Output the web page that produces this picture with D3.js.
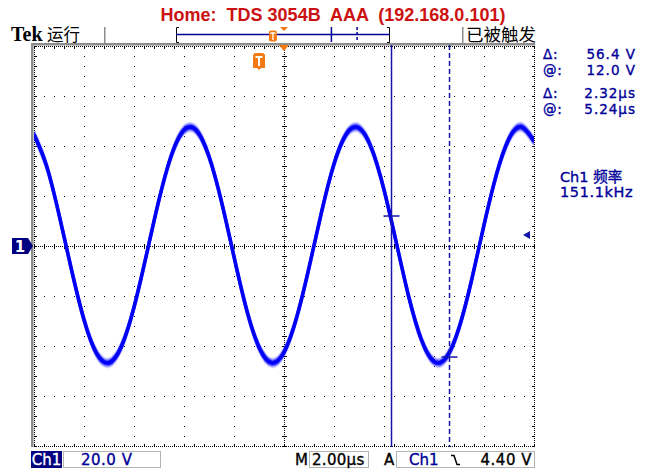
<!DOCTYPE html>
<html><head><meta charset="utf-8">
<script src="https://cdn.jsdelivr.net/npm/d3@7"></script>
<style>html,body{margin:0;padding:0;background:#fff;} svg{display:block}</style>
</head><body>
<svg id="c" width="672" height="475"></svg>
<script>
// ---------- data ----------
const title = "Home:  TDS 3054B  AAA  (192.168.0.101)";
const timeSamples = [-10,-9.5,-9,-8.5,-8,-7.5,-7,-6.5,-6,-5.5,-5,-4.5,-4,-3.5,-3,-2.5,-2,-1.5,-1,-0.5,0,
  0.5,1,1.5,2,2.5,3,3.5,4,4.5,5,5.5,6,6.5,7,7.5,8,8.5,9,9.5,10]; // µs
const ch1Volts = [44.6,32.1,12.6,-9.5,-29.5,-42.9,-46.7,-40.1,-24.5,-3.4,18.5,36.4,46.4,46.2,35.8,17.7,-4.3,-25.3,-40.5,-46.7,-42.5,
  -28.8,-8.7,13.5,32.8,44.9,47.2,39.1,22.5,1.0,-20.7,-37.6,-46.2,-44.5,-32.8,-13.8,8.4,28.7,42.9,47.6,41.9]; // V
const timeDivs = [-10,-8,-6,-4,-2,0,2,4,6,8,10];          // 2.00 µs/div
const voltDivs = [-80,-60,-40,-20,0,20,40,60,80];          // 20.0 V/div
const cursorTimes = [4.28, 6.60];
const cursorVolts = [12.0, -44.4];
const cursorDash = [false, true];
const triggerLevel = 4.40;
const triggerTime = -1.0;
const readoutLabels = ["Δ:", "@:", "Δ:", "@:"];
const readoutValues = ["56.4 V", "12.0 V", "2.32µs", "5.24µs"];
const freqLabel = "Ch1 频率";
const freqValue = "151.1kHz";
const statusLeft = "运行";
const statusRight = "已被触发";
const chScale = "20.0 V";
const timeScale = "2.00µs";
const trigSource = "Ch1";
const trigLevelText = "4.40 V";

// ---------- setup ----------
const svg = d3.select("#c");
const x = d3.scaleLinear().domain([timeDivs[0], timeDivs[timeDivs.length-1]]).range([34, 534]);
const y = d3.scaleLinear().domain([voltDivs[0], voltDivs[voltDivs.length-1]]).range([446, 46]);
const barScale = d3.scaleLinear().domain([-9.75, 9.57]).range([176, 390]);
const X0 = 34, X1 = 534, Y0 = 46, Y1 = 446;
const NAVY = "#000099";

svg.append("defs").append("clipPath").attr("id","clip")
  .append("rect").attr("x",X0).attr("y",Y0).attr("width",X1-X0).attr("height",Y1-Y0);

// title
svg.append("text").attr("x",333).attr("y",21).attr("text-anchor","middle")
  .attr("font-family","Liberation Sans, Arial, sans-serif").attr("font-weight","bold")
  .attr("font-size",18).attr("fill","#cc1111").style("white-space","pre").text(title);

// status bar
svg.append("text").attr("x",11).attr("y",41).attr("font-family","Liberation Serif, serif")
  .attr("font-weight","bold").attr("font-size",20).attr("fill","#000").text("Tek");
svg.append("text").attr("x",47).attr("y",41).attr("font-family","Noto Sans CJK SC, sans-serif")
  .attr("font-size",16.5).attr("fill","#000").text(statusLeft);
svg.append("text").attr("x",466).attr("y",41).attr("font-family","Noto Sans CJK SC, sans-serif")
  .attr("font-size",17.5).attr("fill","#000").text(statusRight);

const gray = "#8c8c8c";
svg.append("rect").attr("x",104).attr("y",27).attr("width",1.5).attr("height",17).attr("fill",gray);
svg.append("rect").attr("x",462).attr("y",27).attr("width",1.5).attr("height",17).attr("fill",gray);
svg.append("rect").attr("x",31).attr("y",43).attr("width",X1-31+1).attr("height",2.5).attr("fill",gray);
svg.append("rect").attr("x",31).attr("y",43).attr("width",2.5).attr("height",Y1-43+1).attr("fill",gray);

// record bar
const bar = svg.append("g");
bar.append("path").attr("d",`M${barScale.range()[0]+3},27.5H${barScale.range()[0]+0.5}V42.5H${barScale.range()[0]+3}`)
  .attr("fill","none").attr("stroke","#000").attr("stroke-width",1);
bar.append("path").attr("d",`M${barScale.range()[1]-3},27.5H${barScale.range()[1]-0.5}V42.5H${barScale.range()[1]-3}`)
  .attr("fill","none").attr("stroke","#000").attr("stroke-width",1);
bar.append("line").attr("x1",barScale.range()[0]).attr("x2",barScale.range()[1]).attr("y1",34.5).attr("y2",34.5)
  .attr("stroke",NAVY).attr("stroke-width",1.5);
cursorTimes.forEach((t,i)=>{
  bar.append("line").attr("x1",barScale(t)).attr("x2",barScale(t)).attr("y1",27).attr("y2",42)
    .attr("stroke",NAVY).attr("stroke-width",1.5).attr("stroke-dasharray",cursorDash[i]?"3,2":null);
});
const ORANGE = "#f37a12";
const bx0 = barScale(0);
bar.append("path").attr("d",`M${bx0-4},27L${bx0+4},27L${bx0},31Z`).attr("fill",ORANGE);
const bt = barScale(triggerTime);
bar.append("rect").attr("x",bt-4).attr("y",30.5).attr("width",8).attr("height",11).attr("rx",2).attr("fill",ORANGE);
bar.append("path").attr("d",`M${bt-2.5},33H${bt+2.5}M${bt},33V40`).attr("stroke","#fff").attr("stroke-width",1.3);

// ---------- grid ----------
const grid = svg.append("g").attr("shape-rendering","crispEdges").attr("stroke","#000").attr("stroke-width",1);
timeDivs.forEach((t,i)=>{
  const px = Math.round(x(t)) + 0.5;
  const isBorder = (i===0 || i===timeDivs.length-1), isCenter = t===0;
  grid.append("line").attr("x1",px).attr("x2",px).attr("y1",Y0).attr("y2",Y1+1)
    .attr("stroke-dasharray",(isBorder||isCenter)?"1,1":"1,9");
});
voltDivs.forEach((v,i)=>{
  const py = Math.round(y(v)) + 0.5;
  const isBorder = (i===0 || i===voltDivs.length-1), isCenter = v===0;
  grid.append("line").attr("x1",X0).attr("x2",X1+1).attr("y1",py).attr("y2",py)
    .attr("stroke-dasharray",(isBorder||isCenter)?"1,1":"1,9");
});
const minorT = d3.range(timeDivs[0], timeDivs[timeDivs.length-1]+0.001, 0.4);
const minorV = d3.range(voltDivs[0], voltDivs[voltDivs.length-1]+0.001, 4);
minorT.forEach(t=>{
  const px = Math.round(x(t)) + 0.5;
  grid.append("line").attr("x1",px).attr("x2",px).attr("y1",y(0)-2).attr("y2",y(0)+3);
  grid.append("line").attr("x1",px).attr("x2",px).attr("y1",Y0).attr("y2",Y0+3);
  grid.append("line").attr("x1",px).attr("x2",px).attr("y1",Y1-2).attr("y2",Y1+1);
});
minorV.forEach(v=>{
  const py = Math.round(y(v)) + 0.5;
  grid.append("line").attr("x1",x(0)-2).attr("x2",x(0)+3).attr("y1",py).attr("y2",py);
  grid.append("line").attr("x1",X0).attr("x2",X0+3).attr("y1",py).attr("y2",py);
  grid.append("line").attr("x1",X1-2).attr("x2",X1+1).attr("y1",py).attr("y2",py);
});

// ---------- trace ----------
const line = d3.line().x((d,i)=>x(timeSamples[i])).y(d=>y(d)).curve(d3.curveNatural);
const pathD = line(ch1Volts);
const tg = svg.append("g").attr("clip-path","url(#clip)");
[[4.5,0.12],[3.5,0.25],[2.5,0.5],[1.5,0.85]].forEach(([o,a])=>{
  [-o,o].forEach(s=>tg.append("path").attr("d",pathD).attr("transform",`translate(0,${s})`)
    .attr("fill","none").attr("stroke","#2424ff").attr("stroke-width",2).attr("stroke-opacity",a));
});
tg.append("path").attr("d",pathD).attr("fill","none").attr("stroke","#0000f5").attr("stroke-width",3.5);

// ---------- cursors ----------
cursorTimes.forEach((t,i)=>{
  const cx = Math.round(x(t)) + 0.5;
  svg.append("line").attr("x1",cx).attr("x2",cx).attr("y1",Y0-1).attr("y2",Y1+1)
    .attr("stroke","#1515a8").attr("stroke-width",1.5).attr("stroke-dasharray",cursorDash[i]?"5,3":null);
  svg.append("line").attr("x1",cx-8).attr("x2",cx+8).attr("y1",y(cursorVolts[i])).attr("y2",y(cursorVolts[i]))
    .attr("stroke","#1515a8").attr("stroke-width",1.5);
});

svg.append("path").attr("d",`M${x(0)-5},45L${x(0)+5},45L${x(0)},51Z`).attr("fill",ORANGE);
const tx = x(triggerTime);
svg.append("path").attr("d",`M${tx-6},68V56Q${tx-6},53 ${tx-3},53H${tx+3}Q${tx+6},53 ${tx+6},56V68H${tx+2}L${tx},70L${tx-2},68Z`).attr("fill",ORANGE);
svg.append("path").attr("d",`M${tx-3.5},57H${tx+3.5}M${tx},57V66`).attr("stroke","#fff").attr("stroke-width",2);

const gy = y(0);
svg.append("path").attr("d",`M12,${gy-8}H28L33,${gy}L28,${gy+8}H12Z`).attr("fill","#000080");
svg.append("text").attr("x",20).attr("y",gy+6).attr("text-anchor","middle").attr("font-family","DejaVu Sans, sans-serif")
  .attr("font-weight","bold").attr("font-size",15).attr("fill","#fff").text("1");
const ty = y(triggerLevel);
svg.append("path").attr("d",`M523,${ty}L530,${ty-4}L530,${ty+4}Z`).attr("fill","#1515a8");

// ---------- right readouts ----------
const rf = "DejaVu Sans, sans-serif";
const rowY = [59, 75, 98, 114];
function thick(sel, c){ return sel.attr("stroke",c).attr("stroke-width",0.35); }
readoutLabels.forEach((l,i)=>{
  thick(svg.append("text").attr("x",543).attr("y",rowY[i]).attr("font-family",rf).attr("font-size",13.5)
    .attr("letter-spacing",0.8).attr("fill",NAVY).text(l), NAVY);
  thick(svg.append("text").attr("x",636).attr("y",rowY[i]).attr("text-anchor","end").attr("font-family",rf)
    .attr("font-size",13.5).attr("letter-spacing",1).attr("fill",NAVY).style("white-space","pre").text(readoutValues[i]), NAVY);
});
thick(svg.append("text").attr("x",560).attr("y",182).attr("font-family",rf+", Noto Sans CJK SC").attr("font-size",14.5)
  .attr("fill",NAVY).text(freqLabel), NAVY);
thick(svg.append("text").attr("x",560).attr("y",197).attr("font-family",rf).attr("font-size",14.5).attr("letter-spacing",0.6)
  .attr("fill",NAVY).text(freqValue), NAVY);

// ---------- bottom readouts ----------
const bfy = 465;
svg.append("rect").attr("x",31).attr("y",451).attr("width",31).attr("height",17).attr("fill","#000080");
thick(svg.append("text").attr("x",46.5).attr("y",bfy).attr("text-anchor","middle").attr("font-family",rf)
  .attr("font-size",15).attr("fill","#fff").text("Ch1"), "#fff");
const boxStroke = "#b4b4b4";
svg.append("rect").attr("x",63.5).attr("y",451.5).attr("width",97).attr("height",16).attr("fill","none").attr("stroke",boxStroke);
thick(svg.append("text").attr("x",81).attr("y",bfy).attr("font-family",rf).attr("font-size",15).attr("letter-spacing",0.5)
  .attr("fill",NAVY).style("white-space","pre").text(chScale), NAVY);
thick(svg.append("text").attr("x",295).attr("y",bfy).attr("font-family",rf).attr("font-size",15).attr("fill","#000").text("M"), "#000");
svg.append("rect").attr("x",309.5).attr("y",451.5).attr("width",59).attr("height",16).attr("fill","none").attr("stroke",boxStroke);
thick(svg.append("text").attr("x",312).attr("y",bfy).attr("font-family",rf).attr("font-size",15).attr("letter-spacing",0.3)
  .attr("fill","#000").text(timeScale), "#000");
thick(svg.append("text").attr("x",384).attr("y",bfy).attr("font-family",rf).attr("font-size",15).attr("fill","#000").text("A"), "#000");
svg.append("rect").attr("x",396.5).attr("y",451.5).attr("width",138).attr("height",16).attr("fill","none").attr("stroke",boxStroke);
thick(svg.append("text").attr("x",409).attr("y",bfy).attr("font-family",rf).attr("font-size",15).attr("fill",NAVY).text(trigSource), NAVY);
svg.append("path").attr("d","M451,455.5H454L457,464.5H460").attr("fill","none").attr("stroke","#000").attr("stroke-width",1.5);
thick(svg.append("text").attr("x",532).attr("y",bfy).attr("text-anchor","end").attr("font-family",rf).attr("font-size",15)
  .attr("letter-spacing",0.5).attr("fill","#000").style("white-space","pre").text(trigLevelText), "#000");
</script>
</body></html>
